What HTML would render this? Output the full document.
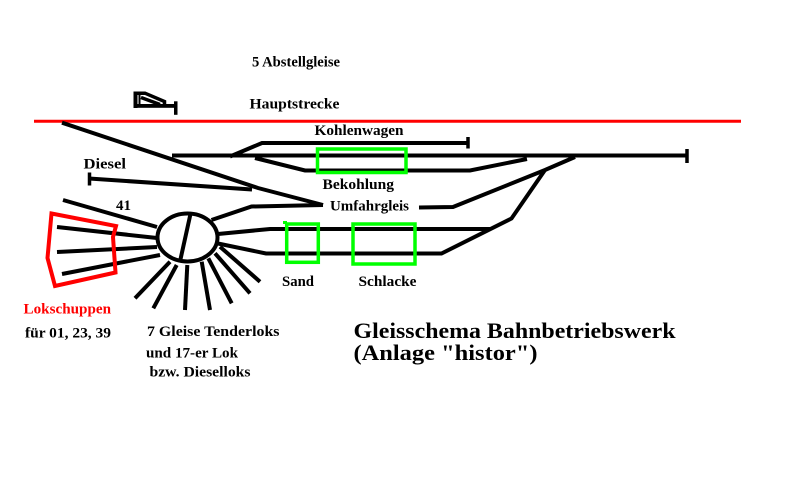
<!DOCTYPE html>
<html>
<head>
<meta charset="utf-8">
<style>
  html, body { margin:0; padding:0; background:#fff; }
  body { width:800px; height:500px; overflow:hidden; }
  svg { display:block; }
  text { font-family: "Liberation Serif", "DejaVu Serif", serif; font-weight:bold; fill:#000; }
</style>
</head>
<body>
<svg width="800" height="500" viewBox="0 0 800 500" xmlns="http://www.w3.org/2000/svg">
  <rect x="0" y="0" width="800" height="500" fill="#fff"/>

  <!-- Hauptstrecke (red) -->
  <line x1="34" y1="121.3" x2="741" y2="121.3" stroke="#ff0000" stroke-width="3"/>

  <g stroke="#000" stroke-width="4" fill="none" stroke-linejoin="miter">
    <!-- long diagonal from main line to Umfahrgleis -->
    <polyline points="62,122.7 258,188 323,205"/>
    <!-- Diesel -->
    <polyline points="89,178.5 252,189.5"/>
    <!-- main horizontal track -->
    <polyline points="172,155.5 687,155.5"/>
    <!-- Kohlenwagen branch -->
    <polyline points="230,156.5 262,143 468,143"/>
    <!-- Bekohlung lower branch -->
    <polyline points="255,158 305,170.5 470,170.5 527,159"/>
    <!-- Umfahrgleis right -->
    <polyline points="419,207.5 453,207 545,170 575,157"/>
    <!-- diagonal down to lower track -->
    <polyline points="545,170 511.5,218.5 441.5,253.5 266,253.5 218,243.5"/>
    <!-- upper Sand track -->
    <polyline points="218,234 270,229 490,229"/>
    <!-- Umfahrgleis left from circle -->
    <polyline points="211.5,220 251.5,206.5 323,205"/>

    <!-- lines into Lokschuppen -->
    <line x1="63" y1="200" x2="157" y2="227"/>
    <line x1="57" y1="227" x2="157" y2="238"/>
    <line x1="57" y1="252" x2="157" y2="247"/>
    <line x1="62" y1="274" x2="160" y2="255"/>

    <!-- radiating tracks below turntable -->
    <line x1="170" y1="261.7" x2="135" y2="298.3"/>
    <line x1="176.7" y1="265" x2="153.3" y2="308.3"/>
    <line x1="187.3" y1="265" x2="185" y2="310"/>
    <line x1="201.7" y1="261.7" x2="210" y2="310"/>
    <line x1="208.3" y1="258.3" x2="231.7" y2="303.3"/>
    <line x1="215" y1="253.3" x2="250" y2="293.3"/>
    <line x1="220" y1="246.7" x2="260" y2="281.7"/>
  </g>

  <!-- turntable -->
  <ellipse cx="187.5" cy="237.5" rx="30" ry="24" fill="#fff" stroke="#000" stroke-width="4"/>
  <line x1="190.7" y1="213" x2="180" y2="261.5" stroke="#000" stroke-width="4"/>

  <!-- stoppers -->
  <g stroke="#000" stroke-width="3.5">
    <line x1="468" y1="137" x2="468" y2="148.5"/>
    <line x1="687" y1="149" x2="687" y2="163"/>
    <line x1="89.5" y1="172.5" x2="89.5" y2="185.5"/>
  </g>

  <!-- Lokschuppen polygon (red) -->
  <polygon points="51.5,213.5 116,226 113,237 115.5,272.5 55,286 47.5,258" fill="none" stroke="#ff0000" stroke-width="4"/>

  <!-- green boxes -->
  <g fill="none" stroke="#00ff00" stroke-width="3.5">
    <rect x="317.5" y="149" width="88.5" height="23.5"/>
    <rect x="286.7" y="224" width="31.6" height="38.3"/>
    <rect x="353" y="224" width="62" height="40"/>
  </g>
  <rect x="283" y="221" width="4" height="3" fill="#00ff00"/>

  <!-- locomotive icon -->
  <rect x="133.5" y="91.5" width="4" height="16.5" fill="#000"/>
  <rect x="138.5" y="94" width="2" height="11" fill="#000"/>
  <g fill="none" stroke="#000" stroke-width="3.5" stroke-linejoin="miter">
    <polyline points="135,93.2 145,93.2 164.5,101.5 164.5,106"/>
    <polyline points="141,97.5 160,104.5"/>
  </g>
  <rect x="133.5" y="104" width="42" height="3.8" fill="#000"/>
  <rect x="174" y="101.3" width="3.5" height="13.5" fill="#000"/>

  <!-- labels -->
  <g font-size="15">
    <text x="252" y="66.5" textLength="88" lengthAdjust="spacingAndGlyphs">5 Abstellgleise</text>
    <text x="249.5" y="108.5" textLength="90" lengthAdjust="spacingAndGlyphs">Hauptstrecke</text>
    <text x="314.5" y="135" textLength="89" lengthAdjust="spacingAndGlyphs">Kohlenwagen</text>
    <text x="83.5" y="168.5" textLength="42.5" lengthAdjust="spacingAndGlyphs">Diesel</text>
    <text x="322.5" y="189" textLength="71.5" lengthAdjust="spacingAndGlyphs">Bekohlung</text>
    <text x="330" y="210.5" textLength="79" lengthAdjust="spacingAndGlyphs">Umfahrgleis</text>
    <text x="116" y="210" textLength="15" lengthAdjust="spacingAndGlyphs">41</text>
    <text x="282" y="286" textLength="32" lengthAdjust="spacingAndGlyphs">Sand</text>
    <text x="358.5" y="286" textLength="58" lengthAdjust="spacingAndGlyphs">Schlacke</text>
    <text x="23.5" y="313.5" textLength="87.5" lengthAdjust="spacingAndGlyphs" style="fill:#ff0000">Lokschuppen</text>
    <text x="25" y="337.5" textLength="86" lengthAdjust="spacingAndGlyphs">für 01, 23, 39</text>
    <text x="147" y="336" textLength="132.5" lengthAdjust="spacingAndGlyphs">7 Gleise Tenderloks</text>
    <text x="146" y="357.5" textLength="92" lengthAdjust="spacingAndGlyphs">und 17-er Lok</text>
    <text x="149.5" y="376.5" textLength="101" lengthAdjust="spacingAndGlyphs">bzw. Dieselloks</text>
  </g>
  <g font-size="22.5">
    <text x="353.5" y="338" textLength="322" lengthAdjust="spacingAndGlyphs">Gleisschema Bahnbetriebswerk</text>
    <text x="353.5" y="360" textLength="184" lengthAdjust="spacingAndGlyphs">(Anlage "histor")</text>
  </g>
</svg>
</body>
</html>
